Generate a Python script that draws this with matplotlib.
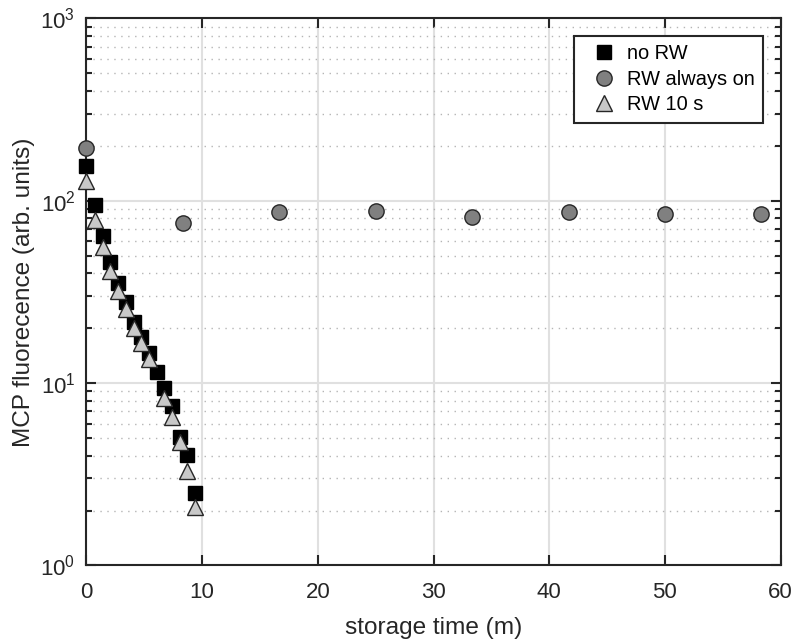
import matplotlib
matplotlib.use("Agg")
import matplotlib.pyplot as plt
from matplotlib.ticker import LogLocator, NullFormatter, FixedLocator

plt.rcParams['font.family'] = ['Liberation Sans', 'DejaVu Sans']
plt.rcParams['mathtext.fontset'] = 'custom'
plt.rcParams['mathtext.rm'] = 'Liberation Sans'
plt.rcParams['mathtext.it'] = 'Liberation Sans'

# Data
t_norw = [0.0, 0.71, 1.40, 2.06, 2.72, 3.41, 4.07, 4.73, 5.42, 6.08, 6.73, 7.39, 8.08, 8.71, 9.37]
y_norw = [156, 95, 64, 46.2, 35.4, 27.7, 21.7, 17.9, 14.6, 11.5, 9.43, 7.48, 5.07, 4.02, 2.51]

t_on = [0.0, 8.33, 16.67, 25.0, 33.33, 41.67, 50.0, 58.33]
y_on = [195, 75.4, 86.7, 87.5, 82.0, 86.7, 85.0, 85.0]

t_10s = [0.0, 0.71, 1.40, 2.06, 2.72, 3.41, 4.07, 4.73, 5.42, 6.73, 7.39, 8.08, 8.71, 9.37]
y_10s = [128, 78.7, 55.7, 41.4, 32.1, 25.4, 20.0, 16.6, 13.5, 8.34, 6.53, 4.77, 3.30, 2.08]

x_ticks = [0, 10, 20, 30, 40, 50, 60]

fig = plt.figure(figsize=(7.95, 6.42), dpi=100)
ax = fig.add_axes([0.1088, 0.1192, 0.8730, 0.8520])

ax.set_yscale('log')
ax.set_xlim(0, 60)
ax.set_ylim(1, 1000)

ax.plot(t_norw, y_norw, linestyle='none', marker='s', markersize=10,
        markerfacecolor='black', markeredgecolor='black', label='no RW', zorder=3, clip_on=False)
ax.plot(t_on, y_on, linestyle='none', marker='o', markersize=11,
        markerfacecolor='#808080', markeredgecolor='#262626', markeredgewidth=1.0,
        label='RW always on', zorder=3, clip_on=False)
ax.plot(t_10s, y_10s, linestyle='none', marker='^', markersize=12,
        markerfacecolor='#c8c8c8', markeredgecolor='#262626', markeredgewidth=1.0,
        label='RW 10 s', zorder=3, clip_on=False)

ax.xaxis.set_major_locator(FixedLocator(x_ticks))
ax.yaxis.set_major_locator(LogLocator(base=10, numticks=10))
ax.yaxis.set_minor_locator(LogLocator(base=10, subs=range(2, 10), numticks=10))
ax.yaxis.set_minor_formatter(NullFormatter())

ax.grid(True, which='major', color='#e0e0e0', linewidth=1.5, linestyle='-', zorder=0)
ax.grid(True, which='minor', axis='y', color='#b5b5b5', linewidth=1.0,
        linestyle=(0, (1, 4)), zorder=0)
ax.set_axisbelow(True)

for s in ax.spines.values():
    s.set_color('#262626')
    s.set_linewidth(1.5)

ax.tick_params(which='both', direction='in', top=True, right=True,
               colors='#262626', labelcolor='#262626', labelsize=16)
ax.tick_params(which='major', length=7, width=1.5)
ax.tick_params(which='minor', length=4, width=1.5)
ax.tick_params(axis='x', which='major', pad=12)
ax.tick_params(axis='y', which='major', pad=8)

ax.set_xlabel('storage time (m)', fontsize=17.6, color='#262626', labelpad=10)
ax.set_ylabel('MCP fluorecence (arb. units)', fontsize=17.6, color='#262626', labelpad=4)

leg = ax.legend(loc='upper right', bbox_to_anchor=(0.975, 0.968), fontsize=14.4,
                frameon=True, fancybox=False, edgecolor='#262626',
                handletextpad=0.1, borderpad=0.42, labelspacing=0.32, handlelength=2.15,
                borderaxespad=0)
leg.get_frame().set_linewidth(1.5)
leg.get_frame().set_alpha(1)

fig.savefig('out.png', dpi=100)
